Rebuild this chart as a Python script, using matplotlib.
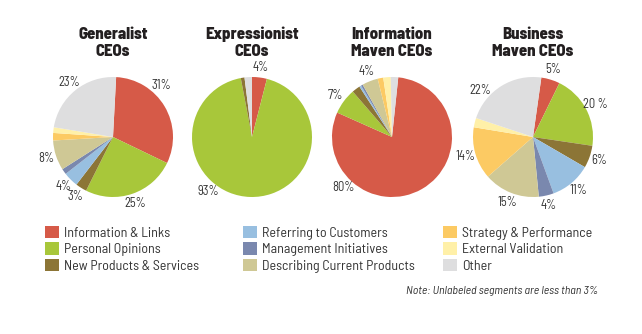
import numpy as np
import matplotlib
matplotlib.use("Agg")
import matplotlib.pyplot as plt
from matplotlib.patches import Patch

plt.rcParams['font.family'] = ['Barlow Semi Condensed', 'Archivo Narrow', 'Liberation Sans', 'DejaVu Sans']

categories = ['Information & Links', 'Personal Opinions', 'New Products & Services',
              'Referring to Customers', 'Management Initiatives', 'Describing Current Products',
              'Strategy & Performance', 'External Validation', 'Other']
colors = ['#d65a48', '#a8c73a', '#8c7536', '#98bfe0', '#7a88ae',
          '#cfc895', '#fcca63', '#fff0a8', '#dededf']

titles = ['Generalist\nCEOs', 'Expressionist\nCEOs', 'Information\nMaven CEOs', 'Business\nMaven CEOs']

# share of each category, same order as categories
generalist = [31, 25, 3, 4, 1.5, 8, 2, 1.5, 23]
expressionist = [4, 93, 1, 0, 0, 0, 0, 0, 2]
info_maven = [80, 7, 2.2, 0.5, 0.5, 4.3, 1.5, 2, 2]
business_maven = [5, 20, 6, 11, 4, 15, 14, 2.5, 22]

generalist_labels = ['31%', '25%', '3%', '4%', '', '8%', '', '', '23%']
expressionist_labels = ['4%', '93%', '', '', '', '', '', '', '']
info_maven_labels = ['80%', '7%', '', '', '', '4%', '', '', '']
business_maven_labels = ['5%', '20 %', '6%', '11%', '4%', '15%', '14%', '', '22%']

shares = [generalist, expressionist, info_maven, business_maven]
labels = [generalist_labels, expressionist_labels, info_maven_labels, business_maven_labels]

W, H = 642, 334
fig = plt.figure(figsize=(W / 100, H / 100), dpi=100)

# pie layout in pixels
centers = [113, 252, 392, 533]
cy = 137
R = 60
start_angles = [87, 90, 84, 82]
# big slices have their label moved round the rim (degrees, clockwise)
label_shift = {(0, 0): -16, (1, 1): 37, (2, 0): 74, (3, 8): -17}

for i, (vals, labs) in enumerate(zip(shares, labels)):
    ax = fig.add_axes([(centers[i] - R) / W, (H - cy - R) / H, 2 * R / W, 2 * R / H])
    wedges, _ = ax.pie(vals, colors=colors, startangle=start_angles[i], counterclock=False,
                       wedgeprops=dict(linewidth=0))
    ax.set_xlim(-1, 1)
    ax.set_ylim(-1, 1)
    ax.axis('off')
    for j, (w, lab) in enumerate(zip(wedges, labs)):
        if not lab:
            continue
        mid = np.radians((w.theta1 + w.theta2) / 2 - label_shift.get((i, j), 0))
        ax.text(1.17 * np.cos(mid), 1.17 * np.sin(mid), lab, ha='center', va='center',
                fontsize=9, color='#333333', clip_on=False)
    fig.text(centers[i] / W, 1 - 43 / H, titles[i], ha='center', va='center',
             fontsize=12, fontweight=800, color='#231f20', linespacing=1.18)

# legend in three columns
col_x = [45, 243, 443]
for k in range(3):
    handles = [Patch(facecolor=colors[3 * k + r], edgecolor='none') for r in range(3)]
    fig.legend(handles, categories[3 * k:3 * k + 3], loc='upper left',
               bbox_to_anchor=(col_x[k] / W, 1 - 226 / H), frameon=False,
               borderpad=0, borderaxespad=0, handlelength=1.0, handleheight=1.0,
               handletextpad=0.35, labelspacing=0.18, labelcolor='#333333',
               prop=dict(size=10))

fig.text(598 / W, 1 - 291 / H, 'Note: Unlabeled segments are less than 3%', ha='right',
         va='center', fontsize=8.5, style='italic', color='#333333')

fig.savefig('out.png', dpi=100, facecolor='white')
